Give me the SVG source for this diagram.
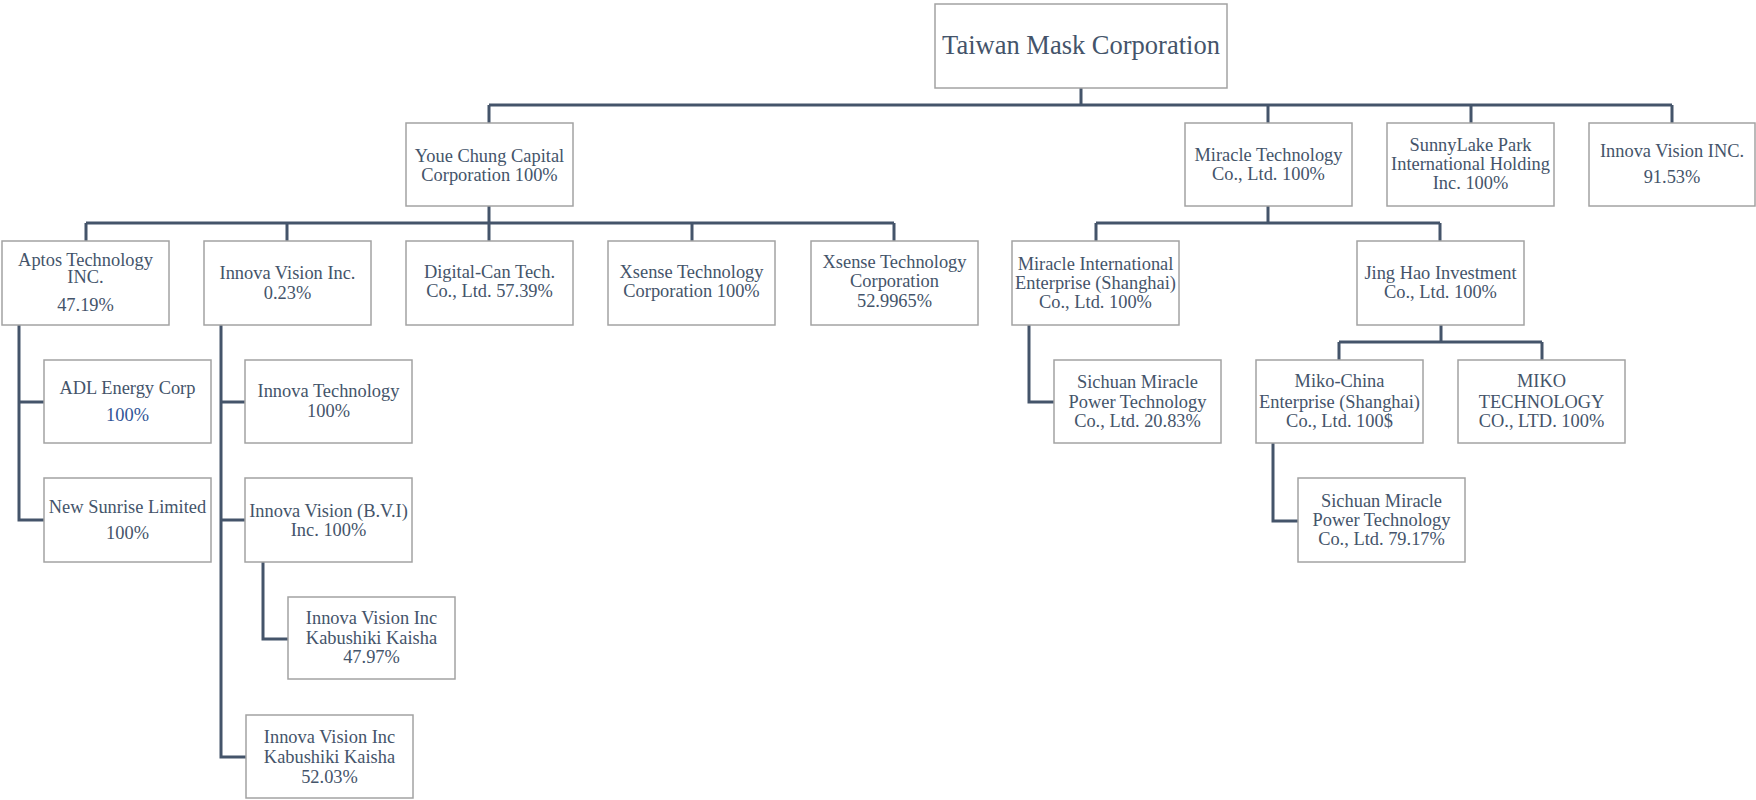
<svg xmlns="http://www.w3.org/2000/svg" width="1756" height="800" viewBox="0 0 1756 800">
<style>
.box{fill:#fff;stroke:#a3a3a3;stroke-width:1.5}
.t{font-family:"Liberation Serif","Times New Roman",serif;font-size:18.4px;fill:#44546a;text-anchor:middle}
.big{font-size:26.5px}
.blue{fill:#2f5597}
.c{fill:none;stroke:#44546a;stroke-width:3}
</style>
<rect width="1756" height="800" fill="#fff"/>
<g id="connectors">
<path class="c" d="M1081,88V105M489,105H1672M489,105V123M1268,105V123M1471,105V123M1672,105V123"/>
<path class="c" d="M489,206V241M86,223H894M86,223V241M287,223V241M692,223V241M894,223V241"/>
<path class="c" d="M1268,206V223M1096,223H1440M1096,223V241M1440,223V241"/>
<path class="c" d="M1441,325V342M1339,342H1542M1339,342V360M1542,342V360"/>
<path class="c" d="M19,325V520H44M19,402H44"/>
<path class="c" d="M221,325V757H246M221,402H245M221,520H245"/>
<path class="c" d="M263,562V639H288"/>
<path class="c" d="M1029,325V402H1054"/>
<path class="c" d="M1273,443V521H1298"/>
</g>
<g id="taiwan"><rect class="box" x="935" y="4" width="292" height="84"/><text class="t big" x="1081" y="54">Taiwan Mask Corporation</text></g>
<g id="youe"><rect class="box" x="406" y="123" width="167" height="83"/><text class="t" x="489.5" y="161.5">Youe Chung Capital</text><text class="t" x="489.5" y="180.5">Corporation 100%</text></g>
<g id="miracle"><rect class="box" x="1185" y="123" width="167" height="83"/><text class="t" x="1268.5" y="160.7">Miracle Technology</text><text class="t" x="1268.5" y="179.5">Co., Ltd. 100%</text></g>
<g id="sunnylake"><rect class="box" x="1387" y="123" width="167" height="83"/><text class="t" x="1470.5" y="150.7">SunnyLake Park</text><text class="t" x="1470.5" y="170">International Holding</text><text class="t" x="1470.5" y="189.3">Inc. 100%</text></g>
<g id="innovaINC"><rect class="box" x="1589" y="123" width="166" height="83"/><text class="t" x="1672" y="157.3">Innova Vision INC.</text><text class="t" x="1672" y="183.3">91.53%</text></g>
<g id="aptos"><rect class="box" x="2" y="241" width="167" height="84"/><text class="t" x="85.5" y="265.7">Aptos Technology</text><text class="t" x="85.5" y="283.3">INC.</text><text class="t" x="85.5" y="311">47.19%</text></g>
<g id="innova023"><rect class="box" x="204" y="241" width="167" height="84"/><text class="t" x="287.5" y="279">Innova Vision Inc.</text><text class="t" x="287.5" y="299">0.23%</text></g>
<g id="digital"><rect class="box" x="406" y="241" width="167" height="84"/><text class="t" x="489.5" y="278">Digital-Can Tech.</text><text class="t" x="489.5" y="297">Co., Ltd. 57.39%</text></g>
<g id="xsense100"><rect class="box" x="608" y="241" width="167" height="84"/><text class="t" x="691.5" y="278">Xsense Technology</text><text class="t" x="691.5" y="297">Corporation 100%</text></g>
<g id="xsense52"><rect class="box" x="811" y="241" width="167" height="84"/><text class="t" x="894.5" y="268">Xsense Technology</text><text class="t" x="894.5" y="287">Corporation</text><text class="t" x="894.5" y="306.5">52.9965%</text></g>
<g id="miracleIntl"><rect class="box" x="1012" y="241" width="167" height="84"/><text class="t" x="1095.5" y="270">Miracle International</text><text class="t" x="1095.5" y="289">Enterprise (Shanghai)</text><text class="t" x="1095.5" y="307.5">Co., Ltd. 100%</text></g>
<g id="jinghao"><rect class="box" x="1357" y="241" width="167" height="84"/><text class="t" x="1440.5" y="279">Jing Hao Investment</text><text class="t" x="1440.5" y="297.5">Co., Ltd. 100%</text></g>
<g id="adl"><rect class="box" x="44" y="360" width="167" height="83"/><text class="t" x="127.5" y="394.3">ADL Energy Corp</text><text class="t blue" x="127.5" y="420.7">100%</text></g>
<g id="newsunrise"><rect class="box" x="44" y="478" width="167" height="84"/><text class="t" x="127.5" y="512.7">New Sunrise Limited</text><text class="t" x="127.5" y="539">100%</text></g>
<g id="innovaTech"><rect class="box" x="245" y="360" width="167" height="83"/><text class="t" x="328.5" y="397">Innova Technology</text><text class="t" x="328.5" y="416.7">100%</text></g>
<g id="bvi"><rect class="box" x="245" y="478" width="167" height="84"/><text class="t" x="328.5" y="516.7">Innova Vision (B.V.I)</text><text class="t" x="328.5" y="535.7">Inc. 100%</text></g>
<g id="ivkk47"><rect class="box" x="288" y="597" width="167" height="82"/><text class="t" x="371.5" y="624.3">Innova Vision Inc</text><text class="t" x="371.5" y="644">Kabushiki Kaisha</text><text class="t" x="371.5" y="663.3">47.97%</text></g>
<g id="ivkk52"><rect class="box" x="246" y="715" width="167" height="83"/><text class="t" x="329.5" y="743.3">Innova Vision Inc</text><text class="t" x="329.5" y="762.7">Kabushiki Kaisha</text><text class="t" x="329.5" y="782.7">52.03%</text></g>
<g id="sichuan20"><rect class="box" x="1054" y="360" width="167" height="83"/><text class="t" x="1137.5" y="388.3">Sichuan Miracle</text><text class="t" x="1137.5" y="408.3">Power Technology</text><text class="t" x="1137.5" y="427.3">Co., Ltd. 20.83%</text></g>
<g id="mikochina"><rect class="box" x="1256" y="360" width="167" height="83"/><text class="t" x="1339.5" y="387.3">Miko-China</text><text class="t" x="1339.5" y="407.5">Enterprise (Shanghai)</text><text class="t" x="1339.5" y="426.7">Co., Ltd. 100$</text></g>
<g id="mikotech"><rect class="box" x="1458" y="360" width="167" height="83"/><text class="t" x="1541.5" y="387.3">MIKO</text><text class="t" x="1541.5" y="407.5">TECHNOLOGY</text><text class="t" x="1541.5" y="426.7">CO., LTD. 100%</text></g>
<g id="sichuan79"><rect class="box" x="1298" y="478" width="167" height="84"/><text class="t" x="1381.5" y="506.7">Sichuan Miracle</text><text class="t" x="1381.5" y="526">Power Technology</text><text class="t" x="1381.5" y="545">Co., Ltd. 79.17%</text></g>
</svg>
